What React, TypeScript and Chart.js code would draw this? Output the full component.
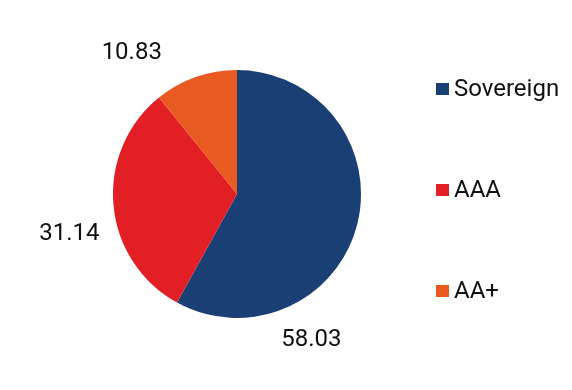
import React, { useEffect, useRef } from "react";
import { Chart, registerables } from "chart.js";

Chart.register(...registerables);

const categories = ["Sovereign", "AAA", "AA+"];
const values = [58.03, 31.14, 10.83];
const colors = ["#1a3f74", "#e31f26", "#e95a21"];
const valueLabels = ["58.03", "31.14", "10.83"];

// label placement (angle in degrees from +x, clockwise; distance as multiple of radius)
const labelPlacement = [
  { angle: 63, dist: 1.32 },
  { angle: 166.6, dist: 1.39 },
  { angle: 233.3, dist: 1.42 },
];

const FONT = "Roboto, 'Noto Sans', sans-serif";

const labelPlugin = {
  id: "customLabels",
  afterDraw(chart: any) {
    const ctx = chart.ctx;
    const meta = chart.getDatasetMeta(0);
    if (!meta.data.length) return;
    const arc0 = meta.data[0];
    const cx = arc0.x;
    const cy = arc0.y;
    const r = arc0.outerRadius;
    ctx.save();
    ctx.font = `24px ${FONT}`;
    ctx.fillStyle = "#111111";
    ctx.textAlign = "center";
    ctx.textBaseline = "middle";
    meta.data.forEach((_: any, i: number) => {
      const p = labelPlacement[i];
      const a = (p.angle * Math.PI) / 180;
      ctx.fillText(valueLabels[i], cx + Math.cos(a) * r * p.dist, cy + Math.sin(a) * r * p.dist);
    });
    // legend
    const legendX = 436;
    const legendYs = [89, 190, 291];
    const box = 12;
    ctx.textAlign = "left";
    categories.forEach((c, i) => {
      const y = legendYs[i];
      ctx.fillStyle = colors[i];
      ctx.fillRect(legendX, y - box / 2, box + 1, box);
      ctx.fillStyle = "#111111";
      ctx.fillText(c, legendX + 18, y + 1);
    });
    ctx.restore();
  },
};

export default function App() {
  const ref = useRef<HTMLCanvasElement | null>(null);
  useEffect(() => {
    document.body.style.margin = "0";
    const chart = new Chart(ref.current!, {
      type: "pie",
      data: {
        labels: categories,
        datasets: [
          {
            data: values,
            backgroundColor: colors,
            borderWidth: 0,
          },
        ],
      },
      options: {
        responsive: false,
        animation: false,
        layout: { padding: { left: 113, right: 211, top: 70, bottom: 72 } },
        plugins: {
          legend: { display: false },
          tooltip: { enabled: false },
        },
      },
      plugins: [labelPlugin],
    });
    return () => chart.destroy();
  }, []);
  return (
    <div style={{ width: 572, height: 390, background: "#ffffff" }}>
      <canvas ref={ref} width={572} height={390} />
    </div>
  );
}
